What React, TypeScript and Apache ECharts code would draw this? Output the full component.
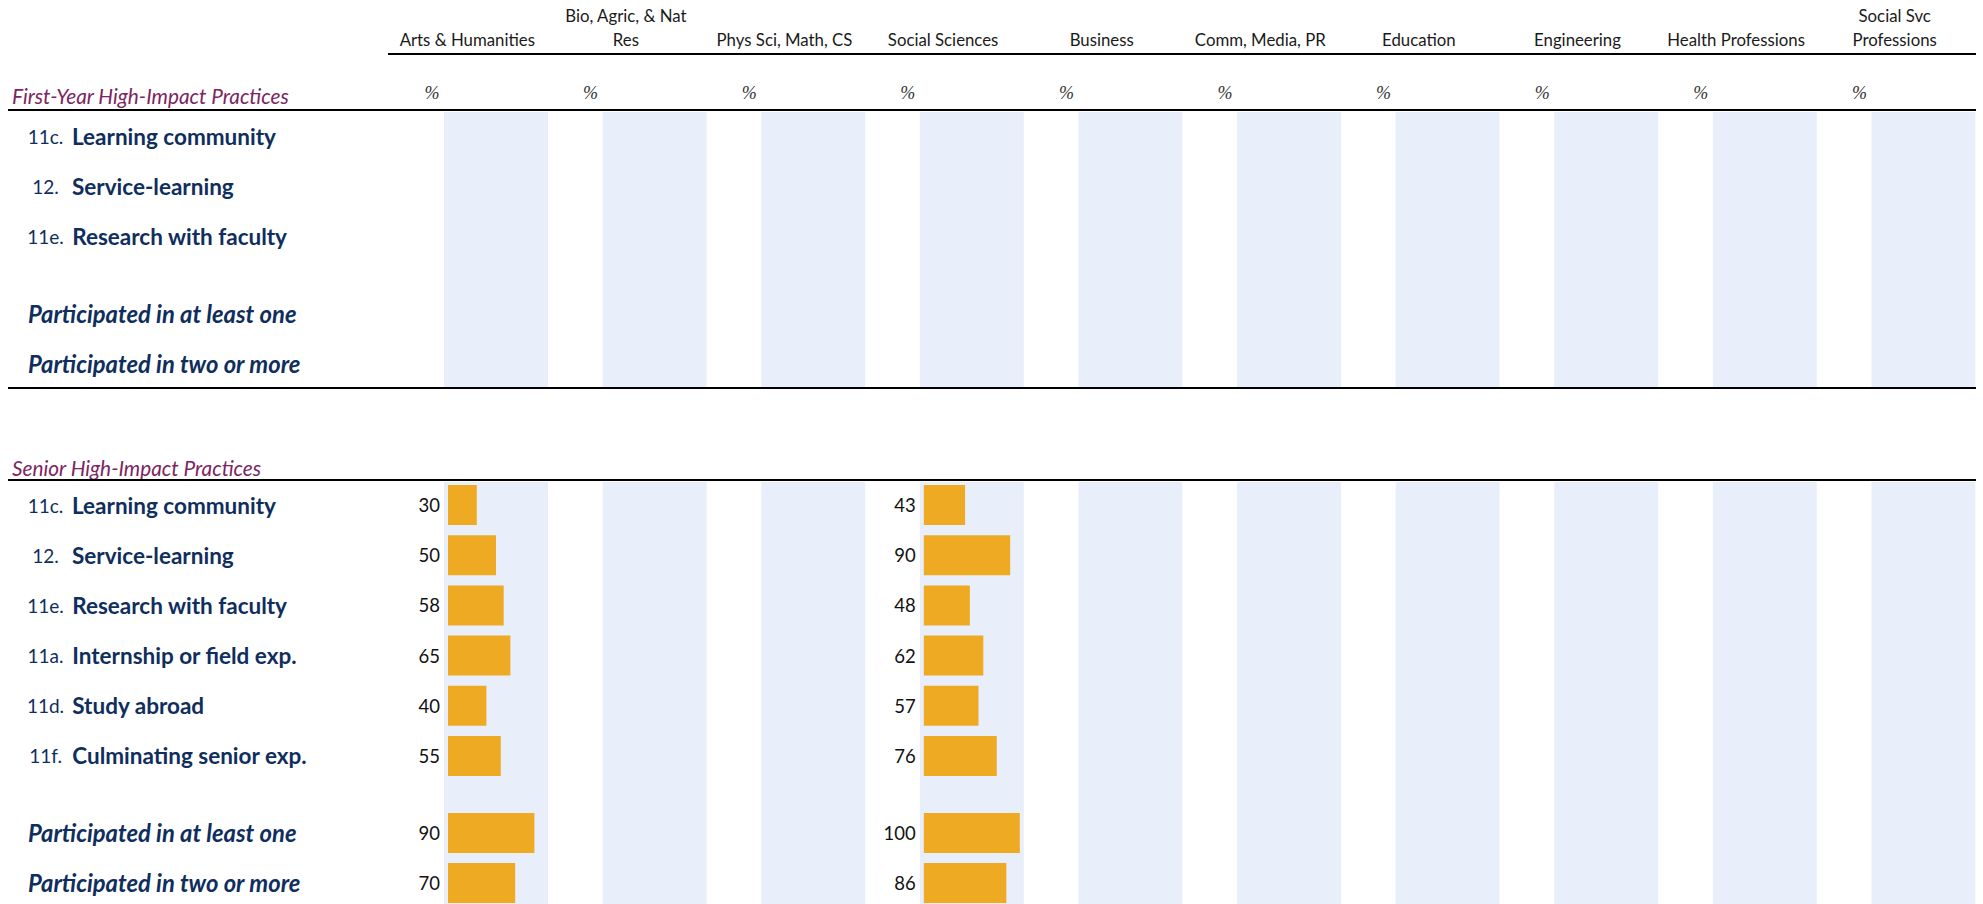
import React, { useEffect, useRef } from "react";
import * as echarts from "echarts";

// ---------- data ----------
const columns = [
  "Arts & Humanities",
  "Bio, Agric, & Nat\nRes",
  "Phys Sci, Math, CS",
  "Social Sciences",
  "Business",
  "Comm, Media, PR",
  "Education",
  "Engineering",
  "Health Professions",
  "Social Svc\nProfessions",
];
const firstYearCodes = ["11c.", "12.", "11e."];
const firstYearItems = ["Learning community", "Service-learning", "Research with faculty"];
const seniorCodes = ["11c.", "12.", "11e.", "11a.", "11d.", "11f."];
const seniorItems = [
  "Learning community",
  "Service-learning",
  "Research with faculty",
  "Internship or field exp.",
  "Study abroad",
  "Culminating senior exp.",
];
const summaryItems = ["Participated in at least one", "Participated in two or more"];
const seniorArtsItems = [30, 50, 58, 65, 40, 55];
const seniorArtsSummary = [90, 70];
const seniorSocialItems = [43, 90, 48, 62, 57, 76];
const seniorSocialSummary = [100, 86];
const seniorData = [
  { col: 0, items: seniorArtsItems, summary: seniorArtsSummary },
  { col: 3, items: seniorSocialItems, summary: seniorSocialSummary },
];

// ---------- style / layout ----------
const FONT = "Lato";
const NAVY = "#0f2e5e";
const PURPLE = "#7d2560";
const BAND = "#e9effa";
const BAR = "#eeaa23";
const COL0 = 388;
const PITCH = 158.6;
const BAND_OFF = 56;
const BAND_W = 104;
const BAR_OFF = 60;
const BAR_W = 96;
const LABEL_X = 28;
const RIGHT = 1976;

const App: React.FC = () => {
  const ref = useRef<HTMLDivElement>(null);
  useEffect(() => {
    if (!ref.current) return;
    document.body.style.margin = "0";
    const chart = echarts.init(ref.current, null, { renderer: "svg" });

    const grids: any[] = [];
    const xAxes: any[] = [];
    const yAxes: any[] = [];
    const series: any[] = [];
    const addGrid = (g: any, x: any, y: any) => {
      grids.push({ outerBoundsMode: "none", containLabel: false, ...g });
      const gi = grids.length - 1;
      xAxes.push({ gridIndex: gi, ...x });
      yAxes.push({ gridIndex: gi, ...y });
      return xAxes.length - 1;
    };

    // header grid
    addGrid(
      { left: COL0, width: PITCH * columns.length, top: 54, height: 56 },
      {
        type: "category",
        position: "top",
        data: columns,
        axisLine: { show: false },
        axisTick: { show: false },
        axisLabel: {
          interval: 0,
          fontFamily: FONT,
          fontSize: 16.8,
          color: "#1a1a1a",
          lineHeight: 24,
          margin: 3,
        },
      },
      { type: "value", show: false, min: 0, max: 1 }
    );

    // bands
    const sections = [
      { top: 112, bottom: 387 },
      { top: 482, bottom: 904 },
    ];
    sections.forEach((s) => {
      columns.forEach((_, i) => {
        addGrid(
          {
            left: COL0 + BAND_OFF + PITCH * i,
            width: BAND_W,
            top: s.top,
            height: s.bottom - s.top,
            show: true,
            backgroundColor: BAND,
            borderWidth: 0,
          },
          { type: "value", show: false },
          { type: "value", show: false }
        );
      });
    });

    const labelAxis = (codes: string[] | null, names: string[], show: boolean) => ({
      type: "category",
      inverse: true,
      data: names,
      axisLine: { show: false },
      axisTick: { show: false },
      axisLabel: {
        show,
        interval: 0,
        align: "left",
        margin: COL0 + BAR_OFF - LABEL_X,
        formatter: (v: string, idx: number) =>
          codes ? `{code|${codes[idx]}}{lab|${v}}` : `{sum|${v}}`,
        rich: {
          code: { width: 35, align: "right", fontFamily: FONT, fontSize: 19, color: NAVY },
          lab: {
            fontFamily: FONT,
            fontSize: 22.5,
            fontWeight: "bold",
            color: NAVY,
            padding: [0, 0, 0, 9],
          },
          sum: {
            fontFamily: FONT,
            fontSize: 23.8,
            fontWeight: "bold",
            fontStyle: "italic",
            color: NAVY,
          },
        },
      },
    });
    const valueX = { type: "value", min: 0, max: 100, show: false };

    // first-year label grids (no data)
    addGrid(
      { left: COL0 + BAR_OFF, width: BAR_W, top: 111, height: 150 },
      valueX,
      labelAxis(firstYearCodes, firstYearItems, true)
    );
    addGrid(
      { left: COL0 + BAR_OFF, width: BAR_W, top: 289.5, height: 99 },
      valueX,
      labelAxis(null, summaryItems, true)
    );

    // senior bar grids
    const barSeries = (axisIdx: number, data: number[]) => ({
      type: "bar",
      xAxisIndex: axisIdx,
      yAxisIndex: axisIdx,
      data,
      barWidth: 40,
      itemStyle: { color: BAR },
      label: {
        show: true,
        position: "left",
        distance: 8,
        fontFamily: FONT,
        fontSize: 18.5,
        color: "#111",
      },
    });
    seniorData.forEach((d) => {
      const showLabels = d.col === 0;
      const a = addGrid(
        { left: COL0 + BAR_OFF + PITCH * d.col, width: BAR_W, top: 480, height: 301 },
        valueX,
        labelAxis(seniorCodes, seniorItems, showLabels)
      );
      series.push(barSeries(a, d.items));
      const b = addGrid(
        { left: COL0 + BAR_OFF + PITCH * d.col, width: BAR_W, top: 808, height: 100 },
        valueX,
        labelAxis(null, summaryItems, showLabels)
      );
      series.push(barSeries(b, d.summary));
    });

    const hline = (y: number, x1: number) => ({
      type: "line",
      z: 100,
      shape: { x1, y1: y, x2: RIGHT, y2: y },
      style: { stroke: "#000", lineWidth: 2 },
    });
    const title = (text: string, y: number) => ({
      type: "text",
      x: 12,
      y,
      style: {
        text,
        fontFamily: FONT,
        fontStyle: "italic",
        fontSize: 20.8,
        fill: PURPLE,
        verticalAlign: "middle",
      },
    });
    const graphic: any[] = [
      hline(54, COL0),
      hline(110, 8),
      hline(388, 8),
      hline(480, 8),
      title("First-Year High-Impact Practices", 95),
      title("Senior High-Impact Practices", 467),
      ...columns.map((_, i) => ({
        type: "text",
        x: COL0 + 44 + PITCH * i,
        y: 93,
        style: {
          text: "%",
          fontFamily: "Liberation Serif",
          fontStyle: "italic",
          fontSize: 18,
          fill: "#333",
          align: "center",
          verticalAlign: "middle",
        },
      })),
    ];

    chart.setOption({
      animation: false,
      backgroundColor: "#fff",
      grid: grids,
      xAxis: xAxes,
      yAxis: yAxes,
      series,
      graphic: { elements: graphic },
    });
    return () => chart.dispose();
  }, []);
  return (
    <div
      ref={ref}
      style={{ position: "fixed", left: 0, top: 0, width: 1983, height: 904 }}
    />
  );
};

export default App;
